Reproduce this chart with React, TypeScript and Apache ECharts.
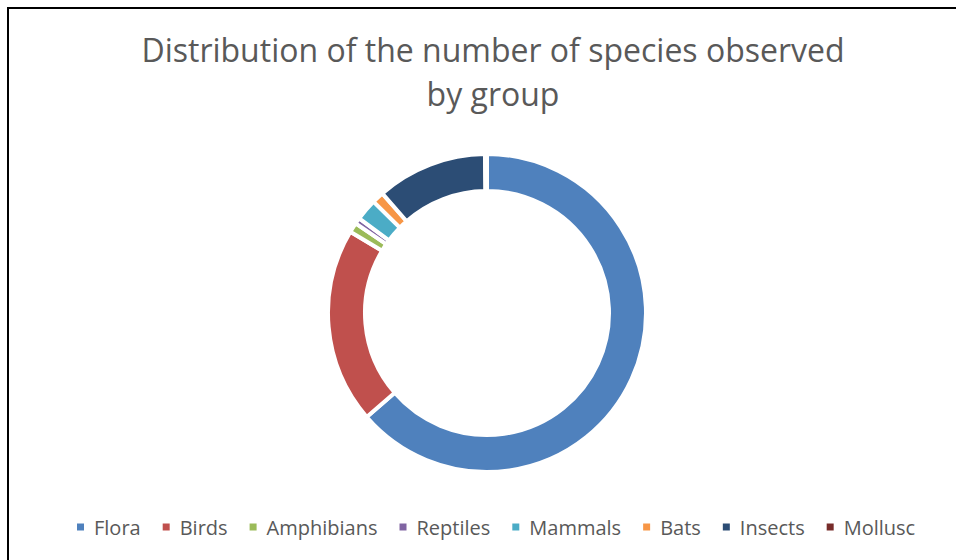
import React, { useEffect, useRef } from "react";
import * as echarts from "echarts";

const categories = ["Flora", "Birds", "Amphibians", "Reptiles", "Mammals", "Bats", "Insects", "Mollusc"];
const speciesCounts = [317, 99, 5, 3, 11, 6, 56, 1];
const colors = ["#4F81BD", "#C0504D", "#9BBB59", "#8064A2", "#4BACC6", "#F79646", "#2C4D75", "#772C2A"];
const titleText = "Distribution of the number of species observed\nby group";

export default function App() {
  const ref = useRef<HTMLDivElement>(null);
  useEffect(() => {
    const chart = echarts.init(ref.current!, undefined, { renderer: "svg" });
    chart.setOption({
      animation: false,
      backgroundColor: "#ffffff",
      title: {
        text: titleText,
        left: 488,
        top: 22,
        textAlign: "center",
        textStyle: {
          fontFamily: "Open Sans",
          fontSize: 32,
          fontWeight: "normal",
          color: "#595959",
          lineHeight: 44,
        },
      },
      legend: {
        data: categories,
        bottom: 18,
        left: 70,
        icon: "rect",
        itemWidth: 9,
        itemHeight: 9,
        itemGap: 20,
        textStyle: {
          fontFamily: "Open Sans",
          fontSize: 20,
          color: "#595959",
          padding: [0, 0, 0, 4],
        },
      },
      graphic: [
        {
          type: "rect",
          shape: { x: 8, y: 8, width: 1000, height: 600 },
          style: { fill: "none", stroke: "#000", lineWidth: 2 },
          silent: true,
        },
      ],
      series: [
        {
          type: "pie",
          center: [487, 313],
          radius: [122, 159],
          startAngle: 90,
          clockwise: true,
          label: { show: false },
          labelLine: { show: false },
          itemStyle: { borderColor: "#ffffff", borderWidth: 4 },
          emphasis: { disabled: true },
          data: categories.map((name, i) => ({
            name,
            value: speciesCounts[i],
            itemStyle: { color: colors[i] },
          })),
        },
      ],
    });
    return () => chart.dispose();
  }, []);
  return (
    <div
      ref={ref}
      style={{ position: "fixed", left: 0, top: 0, width: 956, height: 560 }}
    />
  );
}
